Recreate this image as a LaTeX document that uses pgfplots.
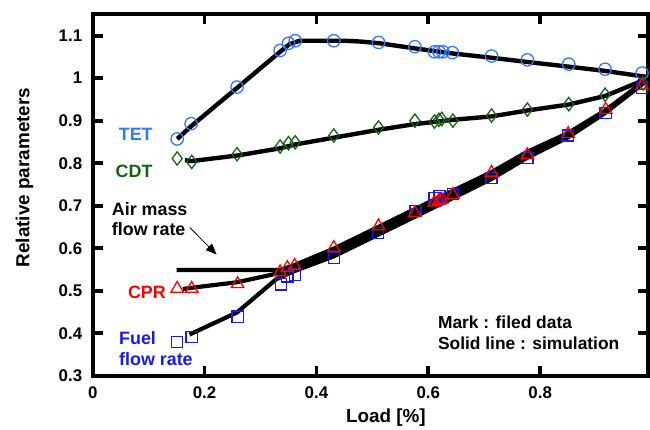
\documentclass[border=0pt]{standalone}
\usepackage{pgfplots}
\pgfplotsset{compat=1.18}
\usepackage{fontspec}
\setmainfont{Liberation Sans}
\usetikzlibrary{arrows.meta}
\definecolor{tetc}{RGB}{50,120,255}
\definecolor{cdtc}{RGB}{20,100,20}
\definecolor{cprc}{RGB}{255,0,0}
\definecolor{fuelc}{RGB}{25,25,235}

\begin{document}
\begin{tikzpicture}[font=\fontsize{18}{21}\selectfont\bfseries]
\begin{axis}[
  scale only axis, width=557bp, height=363bp,
  xmin=0, xmax=0.9925, ymin=0.3, ymax=1.151,
  xtick={0,0.2,0.4,0.6,0.8},
  ytick={0.3,0.4,0.5,0.6,0.7,0.8,0.9,1,1.1},
  yticklabels={0.3,0.4,0.5,0.6,0.7,0.8,0.9,1,1.1},
  /pgf/number format/assume math mode=true,
  tick label style={font=\fontsize{17}{19}\selectfont\bfseries},
  yticklabel style={xshift=-7bp}, xticklabel style={yshift=-7bp},
  tick align=inside, major tick length=10bp,
  every tick/.style={black, line width=3.8bp},
  axis line style={line width=4.2bp},
  xlabel={Load [\%]}, ylabel={Relative parameters},
  label style={font=\fontsize{19}{21}\selectfont\bfseries},
  xlabel style={at={(axis description cs:0.528,-0.116)}, anchor=center},
  ylabel style={at={(axis description cs:-0.123,0.548)}, anchor=center},
  clip=false]
\path ([shift={(-93bp,-53bp)}]rel axis cs:0,0) rectangle ([shift={(0bp,14bp)}]rel axis cs:1,1);
% simulation lines
\addplot[black, line width=4.4bp] coordinates {
  (0.151,0.857)(0.176,0.887)(0.258,0.977)(0.335,1.062)(0.352,1.080)(0.370,1.088)
  (0.450,1.088)(0.480,1.086)(0.513,1.082)(0.576,1.070)(0.644,1.058)(0.713,1.048)
  (0.777,1.038)(0.851,1.027)(0.916,1.017)(0.990,1.003)};
\addplot[black, line width=4.4bp] coordinates {
  (0.165,0.807)(0.177,0.805)(0.258,0.818)(0.335,0.835)(0.362,0.844)(0.431,0.860)
  (0.513,0.879)(0.576,0.892)(0.644,0.902)(0.713,0.910)(0.777,0.924)(0.851,0.938)
  (0.916,0.958)(0.990,0.998)};
% air mass flow rate
\addplot[black, line width=4.2bp] coordinates {
  (0.150,0.549)(0.335,0.549)(0.360,0.560)(0.431,0.599)(0.512,0.651)(0.607,0.712)
  (0.713,0.779)(0.777,0.827)(0.850,0.871)(0.916,0.924)(0.990,0.997)};
% CPR
\addplot[black, line width=4.2bp] coordinates {
  (0.161,0.504)(0.177,0.507)(0.258,0.520)(0.335,0.542)(0.360,0.553)(0.431,0.590)
  (0.512,0.642)(0.607,0.703)(0.713,0.771)(0.777,0.820)(0.850,0.866)(0.916,0.921)
  (0.990,0.995)};
% fuel flow rate
\addplot[black, line width=4.2bp] coordinates {
  (0.173,0.397)(0.258,0.449)(0.328,0.527)(0.360,0.546)(0.431,0.581)(0.512,0.633)
  (0.607,0.694)(0.713,0.763)(0.777,0.813)(0.850,0.861)(0.916,0.918)(0.990,0.993)};
% field data
\addplot[only marks, mark=o, mark size=6.2bp, tetc, mark options={fill=white, line width=1.3bp}] coordinates {
  (0.151,0.857)(0.176,0.893)(0.258,0.979)(0.335,1.065)(0.350,1.082)(0.362,1.088)
  (0.431,1.088)(0.511,1.084)(0.576,1.074)(0.611,1.062)(0.619,1.062)(0.626,1.062)
  (0.643,1.060)(0.713,1.052)(0.777,1.043)(0.851,1.033)(0.916,1.021)(0.982,1.012)};
\addplot[only marks, mark=diamond, mark size=6.7bp, cdtc, mark options={fill=white, line width=1.3bp}] coordinates {
  (0.151,0.811)(0.177,0.803)(0.258,0.821)(0.335,0.839)(0.350,0.847)(0.362,0.849)
  (0.431,0.865)(0.511,0.884)(0.576,0.900)(0.611,0.898)(0.619,0.902)(0.624,0.904)
  (0.644,0.900)(0.713,0.912)(0.777,0.926)(0.851,0.939)(0.916,0.961)(0.984,0.988)};
\addplot[only marks, mark=square, mark size=5.6bp, fuelc, mark options={fill=white, line width=1.3bp}] coordinates {
  (0.151,0.379)(0.177,0.391)(0.259,0.439)(0.337,0.515)(0.348,0.534)(0.362,0.538)
  (0.431,0.577)(0.510,0.636)(0.577,0.687)(0.611,0.718)(0.620,0.722)(0.644,0.728)
  (0.713,0.765)(0.777,0.812)(0.850,0.865)(0.917,0.918)(0.982,0.977)};
\addplot[only marks, mark=triangle, mark size=7.2bp, cprc, mark options={fill=white, line width=1.3bp}] coordinates {
  (0.151,0.505)(0.177,0.505)(0.259,0.516)(0.335,0.544)(0.348,0.554)(0.361,0.559)
  (0.431,0.601)(0.511,0.652)(0.576,0.683)(0.611,0.708)(0.619,0.712)(0.624,0.714)
  (0.644,0.726)(0.713,0.778)(0.777,0.819)(0.850,0.869)(0.917,0.926)(0.982,0.982)};
% annotations
\node[tetc] at (axis cs:0.077,0.867) {TET};
\node[cdtc] at (axis cs:0.074,0.781) {CDT};
\node[cprc] at (axis cs:0.097,0.497) {CPR};
\node[anchor=west, align=left, inner sep=0pt] at (axis cs:0.034,0.6685) {Air mass\\flow rate};
\draw[-{Triangle[length=11bp,width=9bp]}, line width=0.8bp] (axis cs:0.1736,0.6486) -- (axis cs:0.2214,0.5852);
\node[fuelc, anchor=west, align=left, inner sep=0pt] at (axis cs:0.047,0.3646) {Fuel\\flow rate};
\node[anchor=west, align=left, inner sep=0pt, font=\fontsize{17.5}{21}\selectfont\bfseries] at (axis cs:0.617,0.401) {Mark : filed data\\Solid line : simulation};
\end{axis}
\end{tikzpicture}
\end{document}
